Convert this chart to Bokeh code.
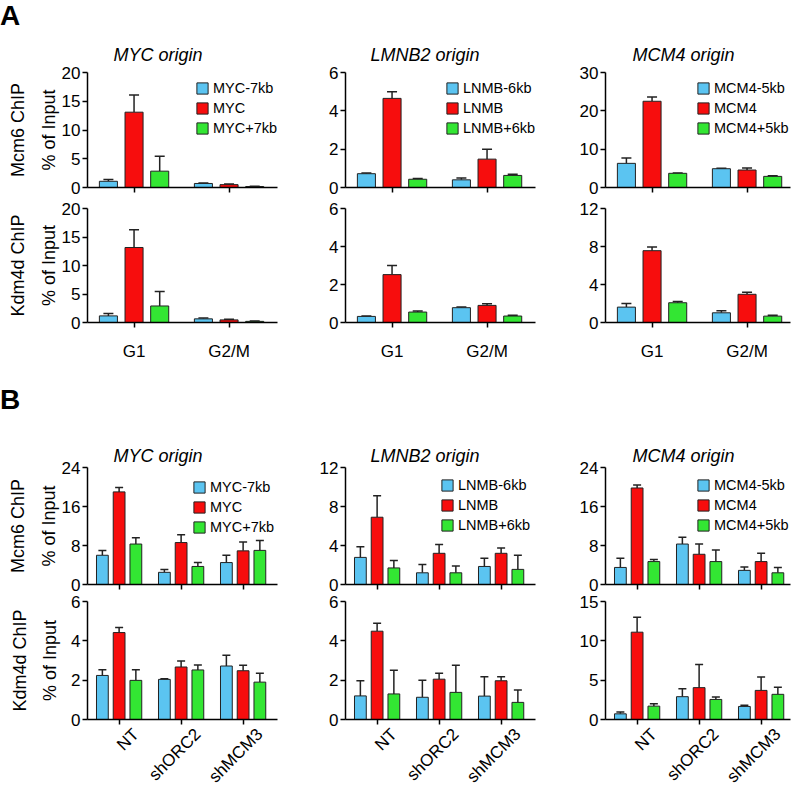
import math
from bokeh.plotting import figure
from bokeh.models import (Range1d, FixedTicker, Whisker, TeeHead, ColumnDataSource,
                          Title, LinearAxis, Div)
from bokeh.layouts import row, column
from bokeh.embed import file_html
from bokeh.resources import INLINE

# ---------------- data ----------------
A_GROUPS = ["G1", "G2/M"]
B_GROUPS = ["NT", "shORC2", "shMCM3"]
MYC_SERIES = ["MYC-7kb", "MYC", "MYC+7kb"]
LMNB2_SERIES = ["LNMB-6kb", "LNMB", "LNMB+6kb"]
MCM4_SERIES = ["MCM4-5kb", "MCM4", "MCM4+5kb"]
TITLES = ["MYC origin", "LMNB2 origin", "MCM4 origin"]
ROW_LABELS = ["Mcm6 ChIP", "Kdm4d ChIP"]
Y_LABEL = "% of Input"
PANEL_LETTERS = ["A", "B"]
COLORS = ["#5BC4F1", "#F70D0D", "#33E633"]

# Panel A - Mcm6 ChIP (rows = series, cols = groups)
A_MYC_MCM6 = [[1.08, 0.70], [13.1, 0.50], [2.84, 0.17]]
A_MYC_MCM6_SD = [[0.32, 0.10], [3.0, 0.10], [2.6, 0.04]]
A_LMNB2_MCM6 = [[0.72, 0.40], [4.65, 1.48], [0.43, 0.63]]
A_LMNB2_MCM6_SD = [[0.04, 0.09], [0.35, 0.51], [0.04, 0.06]]
A_MCM4_MCM6 = [[6.3, 4.9], [22.5, 4.56], [3.7, 2.9]]
A_MCM4_MCM6_SD = [[1.4, 0.1], [1.1, 0.5], [0.1, 0.15]]
# Panel A - Kdm4d ChIP
A_MYC_KDM4D = [[1.16, 0.64], [13.16, 0.46], [2.9, 0.2]]
A_MYC_KDM4D_SD = [[0.4, 0.15], [3.1, 0.12], [2.55, 0.05]]
A_LMNB2_KDM4D = [[0.32, 0.78], [2.52, 0.90], [0.55, 0.34]]
A_LMNB2_KDM4D_SD = [[0.02, 0.03], [0.48, 0.09], [0.05, 0.04]]
A_MCM4_KDM4D = [[1.62, 1.02], [7.56, 2.97], [2.08, 0.67]]
A_MCM4_KDM4D_SD = [[0.38, 0.22], [0.4, 0.21], [0.12, 0.1]]

# Panel B - Mcm6 ChIP
B_MYC_MCM6 = [[6.0, 2.5, 4.5], [19.0, 8.6, 6.9], [8.3, 3.7, 7.0]]
B_MYC_MCM6_SD = [[1.0, 0.6, 1.5], [0.9, 1.6, 1.8], [1.3, 0.8, 2.05]]
B_LMNB2_MCM6 = [[2.78, 1.2, 1.85], [6.9, 3.2, 3.2], [1.7, 1.2, 1.55]]
B_LMNB2_MCM6_SD = [[1.09, 0.86, 0.85], [2.2, 0.9, 0.54], [0.77, 0.7, 1.45]]
B_MCM4_MCM6 = [[3.5, 8.3, 2.9], [19.8, 6.2, 4.7], [4.7, 4.7, 2.4]]
B_MCM4_MCM6_SD = [[1.9, 1.4, 0.7], [0.6, 2.1, 1.7], [0.45, 2.4, 1.1]]
# Panel B - Kdm4d ChIP
B_MYC_KDM4D = [[2.24, 2.04, 2.72], [4.42, 2.67, 2.48], [1.99, 2.52, 1.9]]
B_MYC_KDM4D_SD = [[0.29, 0.03, 0.55], [0.26, 0.31, 0.28], [0.54, 0.25, 0.45]]
B_LMNB2_KDM4D = [[1.2, 1.13, 1.19], [4.49, 2.05, 1.97], [1.3, 1.38, 0.87]]
B_LMNB2_KDM4D_SD = [[0.77, 0.87, 0.98], [0.41, 0.3, 0.21], [1.2, 1.38, 0.63]]
B_MCM4_KDM4D = [[0.72, 2.9, 1.66], [11.1, 4.05, 3.7], [1.7, 2.55, 3.2]]
B_MCM4_KDM4D_SD = [[0.22, 1.0, 0.14], [1.9, 2.95, 1.7], [0.3, 0.3, 0.9]]

# y axis ticks
A_MYC_TICKS = [0, 5, 10, 15, 20]
A_LMNB2_TICKS = [0, 2, 4, 6]
A_MCM4_MCM6_TICKS = [0, 10, 20, 30]
A_MCM4_KDM4D_TICKS = [0, 4, 8, 12]
B_MYC_MCM6_TICKS = [0, 8, 16, 24]
B_MYC_KDM4D_TICKS = [0, 2, 4, 6]
B_LMNB2_MCM6_TICKS = [0, 4, 8, 12]
B_LMNB2_KDM4D_TICKS = [0, 2, 4, 6]
B_MCM4_MCM6_TICKS = [0, 8, 16, 24]
B_MCM4_KDM4D_TICKS = [0, 5, 10, 15]

# ---------------- layout / style ----------------
FONT = "Liberation Sans"
COL_FW = [190, 190, 185]
COL_LB = [87, 60, 60]
COL_RB = [8, 10, 6]
A_DIV_H, A_DIV_LH = 32, 32
B_DIV_H, B_DIV_LH = 52, 50
A_TOP = (72 - A_DIV_H, 115, 12)
A_BOT = (9, 114, 53)
B_TOP = (92 - B_DIV_H, 117, 10)
B_BOT = (7, 118, 73)
TITLE_OFF = [26, 25, 27]
OFFSETS = [-0.27, 0.0, 0.27]
BAR_W = 0.19
ROT_SHIFT = 0.27
A_LEG = [(108, 49), (100, 49), (91, 49)]
B_LEG = [(105, 47), (95, 49), (91, 49)]


def panel(col, groups, series, means, sds, ticks, dims, spacing, xstart,
          xlabels="none", legend_pos=None, title=None, title_standoff=9,
          row_label=None, cap=9):
    tb, fh, bb = dims
    lb, rb, fw = COL_LB[col], COL_RB[col], COL_FW[col]
    p = figure(frame_width=fw, frame_height=fh,
               min_border_left=lb, min_border_right=rb,
               min_border_top=tb, min_border_bottom=bb,
               x_range=Range1d(xstart, xstart + fw / spacing),
               y_range=Range1d(0, ticks[-1]), title=None,
               output_backend="svg", toolbar_location=None, tools="")
    p.xgrid.visible = False
    p.ygrid.visible = False
    p.outline_line_color = None

    n = len(groups)
    for k, name in enumerate(series):
        xs = [i + OFFSETS[k] for i in range(n)]
        his = [m + s for m, s in zip(means[k], sds[k])]
        src = ColumnDataSource(dict(x=xs, top=means[k], hi=his))
        kw = dict(legend_label=name) if legend_pos is not None else {}
        p.vbar(x="x", top="top", bottom=0, width=BAR_W, source=src,
               fill_color=COLORS[k], line_color="#222222", line_width=1, **kw)
        p.add_layout(Whisker(source=src, base="x", upper="hi", lower="top",
                             line_color="#222222", line_width=1.5,
                             upper_head=TeeHead(size=cap, line_color="#222222", line_width=1.5),
                             lower_head=None))

    for ax in (p.xaxis[0], p.yaxis[0]):
        ax.axis_line_color = "black"
        ax.axis_line_width = 1.5
        ax.major_tick_line_color = "black"
        ax.major_tick_line_width = 1.5
        ax.minor_tick_line_color = "black"
        ax.minor_tick_line_width = 1.5
        ax.major_tick_out = 5
        ax.major_tick_in = 0
        ax.minor_tick_out = 5
        ax.minor_tick_in = 0
        ax.major_label_text_font = FONT
        ax.major_label_text_color = "black"
        ax.major_label_text_font_size = "17px"

    # y axis
    ya = p.yaxis[0]
    ya.ticker = FixedTicker(ticks=ticks)
    ya.major_label_standoff = 2
    if row_label is not None:
        digits = max(len(str(t)) for t in ticks)
        ya.axis_label = Y_LABEL
        ya.axis_label_text_font = FONT
        ya.axis_label_text_font_size = "18px"
        ya.axis_label_text_font_style = "normal"
        ya.axis_label_text_color = "black"
        ya.axis_label_standoff = max(0, round(17.5 - 9.45 * digits))
        ax2 = LinearAxis(ticker=FixedTicker(ticks=[]), axis_line_color=None,
                         major_tick_line_color=None, minor_tick_line_color=None,
                         major_tick_out=0, minor_tick_out=0, major_label_standoff=0,
                         axis_label=row_label, axis_label_text_font=FONT,
                         axis_label_text_font_size="18px",
                         axis_label_text_font_style="normal",
                         axis_label_text_color="black", axis_label_standoff=8)
        p.add_layout(ax2, "left")

    # x axis
    xa = p.xaxis[0]
    if xlabels == "flat":
        xa.ticker = FixedTicker(ticks=list(range(n)))
        xa.major_label_overrides = {i: g for i, g in enumerate(groups)}
        xa.major_label_standoff = 14
    else:
        xa.ticker = FixedTicker(ticks=[], minor_ticks=list(range(n)))
        if xlabels == "rotated":
            pos = [i + ROT_SHIFT for i in range(n)]
            xb = LinearAxis(ticker=FixedTicker(ticks=pos),
                            major_label_overrides={v: g for v, g in zip(pos, groups)},
                            major_label_orientation=math.pi / 4,
                            axis_line_color=None, major_tick_line_color=None,
                            minor_tick_line_color=None, major_tick_out=0,
                            minor_tick_out=0, major_label_standoff=7,
                            major_label_text_font=FONT, major_label_text_font_size="17px",
                            major_label_text_color="black")
            p.add_layout(xb, "below")

    if legend_pos is not None:
        leg = p.legend[0]
        leg.location = legend_pos
        leg.background_fill_alpha = 0
        leg.border_line_alpha = 0
        leg.padding = 0
        leg.margin = 0
        leg.spacing = 0
        leg.glyph_width = 14
        leg.glyph_height = 14
        leg.label_height = 20
        leg.label_standoff = 4
        leg.label_text_font = FONT
        leg.label_text_font_size = "14.5px"
        leg.label_text_color = "black"

    if title is not None:
        p.add_layout(Title(text=title, align="left", offset=TITLE_OFF[col],
                           standoff=title_standoff, text_font=FONT,
                           text_font_size="18px", text_font_style="italic",
                           text_color="black"), "above")
    return p


def letter_div(text, height, line_height):
    return Div(text=text, width=40, height=height, margin=0,
               styles={"font-family": FONT, "font-size": "28px", "font-weight": "bold",
                       "line-height": f"{line_height}px", "color": "black",
                       "padding": "0", "margin": "0"})


A_SPACING, A_START = 95.0, -0.49
B_SPACING, B_START = 62.0, -0.51
SERIES = [MYC_SERIES, LMNB2_SERIES, MCM4_SERIES]

A_top_data = [(A_MYC_MCM6, A_MYC_MCM6_SD, A_MYC_TICKS),
              (A_LMNB2_MCM6, A_LMNB2_MCM6_SD, A_LMNB2_TICKS),
              (A_MCM4_MCM6, A_MCM4_MCM6_SD, A_MCM4_MCM6_TICKS)]
A_bot_data = [(A_MYC_KDM4D, A_MYC_KDM4D_SD, A_MYC_TICKS),
              (A_LMNB2_KDM4D, A_LMNB2_KDM4D_SD, A_LMNB2_TICKS),
              (A_MCM4_KDM4D, A_MCM4_KDM4D_SD, A_MCM4_KDM4D_TICKS)]
B_top_data = [(B_MYC_MCM6, B_MYC_MCM6_SD, B_MYC_MCM6_TICKS),
              (B_LMNB2_MCM6, B_LMNB2_MCM6_SD, B_LMNB2_MCM6_TICKS),
              (B_MCM4_MCM6, B_MCM4_MCM6_SD, B_MCM4_MCM6_TICKS)]
B_bot_data = [(B_MYC_KDM4D, B_MYC_KDM4D_SD, B_MYC_KDM4D_TICKS),
              (B_LMNB2_KDM4D, B_LMNB2_KDM4D_SD, B_LMNB2_KDM4D_TICKS),
              (B_MCM4_KDM4D, B_MCM4_KDM4D_SD, B_MCM4_KDM4D_TICKS)]

items = []
items.append(letter_div(PANEL_LETTERS[0], A_DIV_H, A_DIV_LH))
items.append(row(*[panel(c, A_GROUPS, SERIES[c], m, s, t, A_TOP, A_SPACING, A_START,
                         legend_pos=A_LEG[c], title=TITLES[c], title_standoff=15,
                         row_label=ROW_LABELS[0] if c == 0 else None, cap=10)
                   for c, (m, s, t) in enumerate(A_top_data)]))
items.append(row(*[panel(c, A_GROUPS, SERIES[c], m, s, t, A_BOT, A_SPACING, A_START,
                         xlabels="flat",
                         row_label=ROW_LABELS[1] if c == 0 else None, cap=10)
                   for c, (m, s, t) in enumerate(A_bot_data)]))
items.append(letter_div(PANEL_LETTERS[1], B_DIV_H, B_DIV_LH))
items.append(row(*[panel(c, B_GROUPS, SERIES[c], m, s, t, B_TOP, B_SPACING, B_START,
                         legend_pos=B_LEG[c], title=TITLES[c], title_standoff=4,
                         row_label=ROW_LABELS[0] if c == 0 else None, cap=8)
                   for c, (m, s, t) in enumerate(B_top_data)]))
items.append(row(*[panel(c, B_GROUPS, SERIES[c], m, s, t, B_BOT, B_SPACING, B_START,
                         xlabels="rotated",
                         row_label=ROW_LABELS[1] if c == 0 else None, cap=8)
                   for c, (m, s, t) in enumerate(B_bot_data)]))

layout = column(*items)
open("out.html", "w").write(file_html(layout, INLINE))
